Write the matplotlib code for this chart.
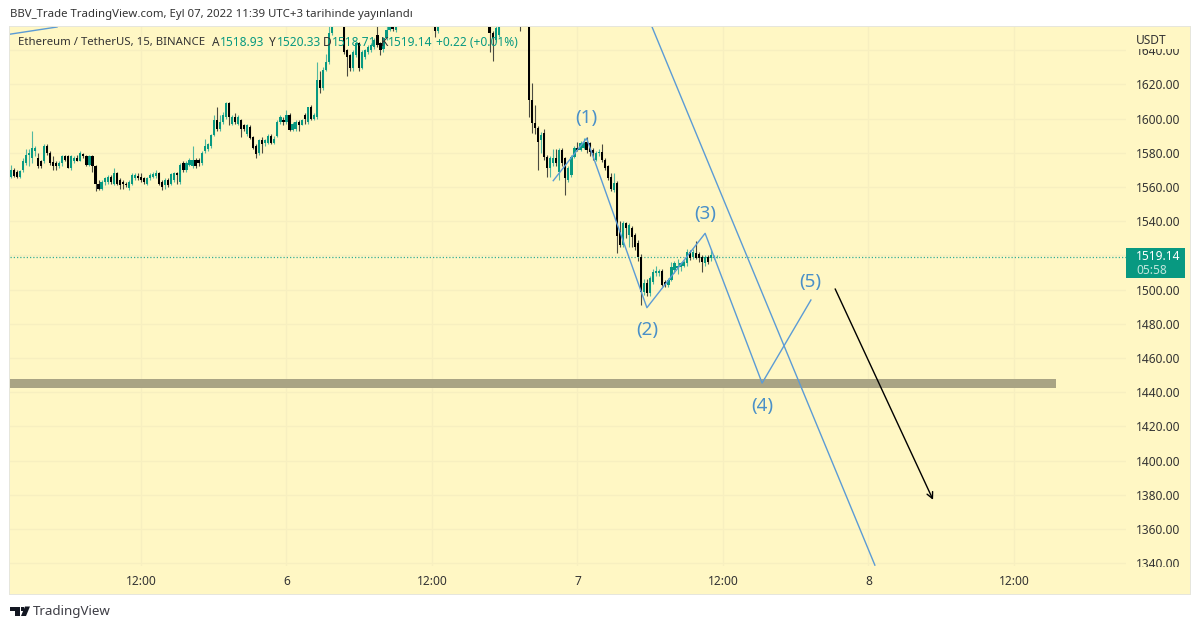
import numpy as np
import matplotlib
matplotlib.use("Agg")
import matplotlib.pyplot as plt
from matplotlib.patches import Rectangle, Polygon
from matplotlib.transforms import Bbox

W, H = 1200, 629
FONT = ["Noto Sans", "DejaVu Sans"]
plt.rcParams["font.family"] = FONT

# 15 minute candles, first one is bar 5 (bar 0 = 5th 00:00)
FIRST_BAR = 5
opens = [
    1566, 1570, 1569, 1566, 1570, 1574, 1579, 1577, 1581, 1577,
    1575, 1575, 1584, 1580, 1574.5, 1574, 1572.5, 1574, 1578, 1578,
    1571, 1575, 1577, 1575.5, 1579.5, 1578, 1573, 1578, 1572.5, 1562,
    1559, 1563, 1563, 1566, 1562, 1568, 1564, 1562.7, 1562, 1559.5,
    1562, 1565.5, 1566.6, 1566, 1565, 1562, 1565, 1565.7, 1566.4, 1568,
    1563, 1561, 1564, 1562, 1564, 1568, 1563, 1574, 1570, 1573,
    1572.5, 1576, 1576, 1574, 1581, 1582, 1584, 1590.5, 1599, 1594,
    1598, 1601, 1609, 1597, 1601, 1597, 1599, 1596, 1591, 1595,
    1589.5, 1584, 1580, 1587.5, 1585.6, 1585.6, 1590, 1586, 1590, 1598,
    1599, 1598, 1602, 1593.4, 1594, 1598, 1596.5, 1602, 1598, 1607,
    1600, 1601, 1622.6, 1617.7, 1628.4, 1633, 1650, 1660, 1668, 1672,
    1668, 1640, 1637, 1629.4, 1637, 1644, 1629.4, 1636, 1639, 1640,
    1642, 1649, 1644, 1640.5, 1647, 1652, 1654, 1652, 1656, 1662,
    1668, 1665, 1672, 1678, 1674, 1670, 1675, 1680, 1672, 1668,
    1663, 1651, 1657, 1663, 1670, 1676, 1672, 1680, 1686, 1682,
    1678, 1684, 1690, 1686, 1680, 1676, 1670, 1666, 1660, 1650,
    1646, 1649, 1656, 1662, 1668, 1673, 1679, 1684, 1680, 1675,
    1682, 1690, 1611, 1597.7, 1594.4, 1587.5, 1591.4, 1577.8, 1571, 1573.9,
    1576.8, 1569, 1581.7, 1576.8, 1564, 1567, 1577.8, 1582.7, 1581.7, 1582.7,
    1586.6, 1585.6, 1581.7, 1576, 1579.7, 1580.7, 1575.8, 1572, 1566, 1558.3,
    1562.6, 1534, 1526, 1538.8, 1532, 1535.9, 1532, 1527, 1519.3, 1498.8,
    1503.7, 1497.8, 1504.6, 1509.5, 1509.5, 1511, 1504.6, 1502.7, 1505.6, 1511.5,
    1512.4, 1513.4, 1514, 1515.4, 1522.2, 1518.9, 1521.6, 1520.8, 1519.3, 1515.4,
    1519.3, 1518.3, 1518.5, 1518.93,
]
closes = [
    1570, 1566.5, 1566, 1569.5, 1575, 1579, 1580, 1583, 1583, 1572,
    1572, 1584, 1580, 1574, 1572.5, 1572, 1574, 1578, 1576, 1571,
    1578, 1577, 1575.5, 1580, 1578, 1573, 1578, 1572.5, 1562, 1559,
    1563, 1565, 1566, 1563, 1568, 1562, 1561, 1562, 1561, 1563,
    1567, 1567, 1565, 1564, 1563, 1565, 1567, 1567.6, 1568, 1562,
    1560, 1564, 1561, 1567.6, 1568, 1567, 1573, 1570, 1574, 1576,
    1576, 1572.5, 1574, 1580, 1584, 1585, 1590.5, 1599, 1594, 1598,
    1602, 1609, 1601, 1601, 1598, 1601, 1594, 1594, 1596, 1588.5,
    1583, 1579.5, 1587.5, 1585, 1587.5, 1590, 1586, 1588, 1598, 1601,
    1598, 1602, 1593.4, 1597, 1598, 1596.5, 1599, 1600, 1606.6, 1600,
    1602, 1622.6, 1617.7, 1628.4, 1633.3, 1650, 1656, 1668, 1672, 1664,
    1639, 1636, 1629.4, 1639, 1644, 1629.4, 1639, 1640, 1642, 1643,
    1646, 1643, 1640, 1647, 1652, 1654.2, 1652.3, 1655, 1662, 1668,
    1665, 1672, 1678, 1674, 1670, 1675, 1680, 1672, 1668, 1664,
    1651, 1657, 1663, 1670, 1676, 1672, 1680, 1686, 1682, 1678,
    1684, 1690, 1686, 1680, 1676, 1670, 1666, 1660, 1650, 1647,
    1653, 1656, 1662, 1668, 1673, 1679, 1684, 1680, 1675, 1682,
    1690, 1610.9, 1597.7, 1594.4, 1586.6, 1590.4, 1577.8, 1571, 1576.8, 1576.8,
    1573.9, 1581.7, 1573.9, 1565, 1571, 1577.8, 1582.7, 1581.7, 1585.6, 1585.6,
    1581.7, 1580.7, 1579.7, 1579.7, 1580.7, 1575.8, 1571, 1565, 1558.7, 1562.6,
    1531.4, 1526, 1538.8, 1535.9, 1537.8, 1531, 1525.1, 1519.3, 1498.8, 1503.7,
    1497.8, 1506.6, 1510.5, 1511, 1511, 1502.7, 1502.7, 1505.6, 1513.4, 1515.4,
    1514, 1515.4, 1516.4, 1522.2, 1518.3, 1522.2, 1518.3, 1518.3, 1516.4, 1519.3,
    1516.4, 1520.2, 1519.3, 1519.14,
]
highs = [
    1573, 1571, 1570, 1570, 1577, 1582, 1582, 1593, 1584, 1580,
    1576, 1585, 1585, 1581, 1578, 1575, 1575, 1579, 1579, 1579,
    1579, 1578, 1579, 1581, 1580, 1579, 1579, 1579, 1573, 1564,
    1564, 1566, 1567, 1567, 1571, 1569, 1565, 1564, 1563, 1564,
    1568, 1568, 1568, 1568, 1566, 1566, 1568, 1569, 1570, 1569,
    1564, 1565, 1565, 1568, 1569, 1569, 1574, 1575, 1575, 1577,
    1584, 1577, 1577, 1581, 1588, 1586, 1591, 1602, 1607, 1602,
    1604, 1610, 1610, 1602, 1603, 1602, 1600, 1597, 1597, 1596,
    1590, 1585, 1588, 1589, 1588, 1591, 1591, 1590, 1599, 1602,
    1601, 1605, 1603, 1598, 1599, 1599, 1600, 1603, 1607, 1608,
    1603, 1633, 1628, 1630, 1638, 1668, 1665, 1672, 1680, 1675,
    1672, 1641, 1638, 1640, 1645, 1645, 1640, 1641, 1643, 1644,
    1647, 1654, 1645, 1648, 1654, 1658, 1658, 1658, 1665, 1672,
    1670, 1676, 1680, 1682, 1676, 1678, 1684, 1682, 1674, 1670,
    1665, 1660, 1666, 1674, 1680, 1679, 1683, 1690, 1688, 1684,
    1687, 1694, 1692, 1688, 1683, 1678, 1672, 1668, 1662, 1651,
    1655, 1660, 1665, 1672, 1676, 1682, 1688, 1686, 1682, 1684,
    1692, 1695, 1621, 1608, 1595.5, 1592, 1594, 1578.5, 1578, 1582,
    1582, 1583, 1583, 1577.5, 1572, 1579, 1584, 1586.5, 1587, 1588.5,
    1589, 1586.5, 1583, 1581, 1582, 1585, 1577, 1573, 1568, 1568.4,
    1563.5, 1540, 1540, 1539.5, 1539, 1537, 1533, 1529, 1521, 1506,
    1506, 1508, 1512, 1514, 1512, 1512, 1505.5, 1507, 1516, 1517,
    1518, 1516, 1517.5, 1524, 1523, 1523.5, 1528.6, 1522, 1520, 1520,
    1520.5, 1524, 1520.5, 1520.33,
]
lows = [
    1565, 1566, 1565, 1565, 1569, 1573, 1572, 1574, 1578, 1571,
    1571, 1574, 1579, 1573, 1570, 1570, 1571, 1572, 1575, 1571,
    1570, 1574, 1575, 1575, 1577, 1572, 1572, 1569, 1557.5, 1558,
    1558, 1561, 1562, 1562, 1561, 1561, 1559, 1559, 1560, 1558,
    1561, 1564, 1564, 1563, 1562, 1561, 1564, 1565, 1565, 1561,
    1558, 1559, 1560, 1561, 1563, 1562, 1562, 1569, 1569, 1572,
    1571, 1571, 1572, 1573, 1580, 1581, 1583, 1590, 1593, 1593,
    1597, 1600, 1596, 1596, 1597, 1596, 1589, 1593, 1590, 1588,
    1582, 1577, 1579, 1580, 1584, 1585, 1585, 1585, 1589, 1597,
    1596, 1597, 1593, 1593, 1593, 1593, 1596, 1597, 1597, 1599,
    1599, 1600, 1615, 1617, 1628, 1632, 1649, 1658, 1665, 1660,
    1638, 1625, 1628, 1628, 1636, 1628, 1629, 1635, 1638, 1639,
    1641, 1642, 1637, 1639, 1646, 1651, 1651.5, 1650.7, 1655, 1660,
    1663, 1664, 1670, 1672, 1668, 1668, 1673, 1670, 1666, 1660,
    1648, 1650, 1656, 1661, 1668, 1670, 1670, 1678, 1680, 1676,
    1676, 1682, 1684, 1677, 1673, 1667, 1663, 1657, 1639, 1634,
    1645, 1648, 1655, 1660, 1666, 1671, 1677, 1677, 1651.5, 1672,
    1680, 1601, 1591.8, 1591, 1570, 1580, 1576, 1565.7, 1566, 1572,
    1572, 1564, 1572, 1555.4, 1563, 1566, 1577, 1581, 1581, 1582,
    1580, 1578, 1576, 1575, 1578, 1574.5, 1570, 1564, 1557.5, 1557,
    1521.6, 1525, 1525, 1530, 1525, 1525, 1523, 1517, 1491, 1497,
    1496, 1496, 1503, 1508, 1508, 1502, 1501.5, 1501.5, 1505, 1509.5,
    1509, 1511, 1513, 1514, 1517.5, 1518, 1518, 1516, 1510, 1514,
    1515, 1517, 1518, 1518.71,
]

LAST_PRICE = 1519.14
price_ticks = list(range(1340, 1641, 20))
time_ticks = [48, 96, 144, 192, 240, 288, 336]
time_labels = ["12:00", "6", "12:00", "7", "12:00", "8", "12:00"]

# drawings on the chart, bar index / price
wave_x = [184, 195, 214.9, 234.1, 252.9, 269]
wave_y = [1563.7, 1588.5, 1489.4, 1532.9, 1445.3, 1493.9]
wave_names = ["(1)", "(2)", "(3)", "(4)", "(5)"]
wave_name_y = [1600.2, 1476.5, 1544.5, 1432, 1504.2]
wave_name_x = [195, 215.1, 234.2, 252.9, 268.7]
channel_x = [216.6, 290.1]
channel_y = [1653.6, 1338.8]
old_line_x = [4.8, 20.3]
old_line_y = [1649.4, 1653.6]
zone_x = [4.8, 349.9]
zone_lo, zone_hi = 1442.4, 1447.8
arrow_x = [277, 309.3]
arrow_y = [1500.4, 1377]

BG = "#FFF7C4"
GRID = "#F7EFC0"
UP = "#089981"
DOWN = "#000000"
BLUE = "#5B9BD5"
LABEL_BLUE = "#4A90C8"
TXT = "#333333"


def fx(x):
    return x / W


def fy(y):
    return 1 - y / H


def put(x, y, s, color=TXT, size=8.2, **kw):
    fig.text(fx(x), fy(y), s, color=color, fontsize=size, va="center", **kw)


fig = plt.figure(figsize=(W / 100, H / 100), dpi=100, facecolor="white")
fig.add_artist(Rectangle((fx(9), fy(594.5)), 1182 / W, 568.5 / H, transform=fig.transFigure,
                         facecolor="#E6E6DC", edgecolor="none", zorder=-2))
fig.add_artist(Rectangle((fx(10), fy(594)), 1180 / W, 567 / H, transform=fig.transFigure,
                         facecolor=BG, edgecolor="none", zorder=-1))

ax = fig.add_axes([fx(10), fy(566), 1116 / W, 539 / H])
ax.patch.set_alpha(0)
ax.set_xlim(4.785, 372.95)
ax.set_ylim(1338.3, 1653.6)
for s in ax.spines.values():
    s.set_visible(False)

ax.yaxis.tick_right()
ax.set_yticks(price_ticks)
ax.set_yticklabels(["%.2f" % p for p in price_ticks], va="center_baseline")
ax.set_xticks(time_ticks)
ax.set_xticklabels(time_labels)
ax.tick_params(length=0, labelsize=8.6, labelcolor=TXT)
ax.tick_params(axis="y", pad=7.5)
ax.tick_params(axis="x", pad=6.5)
for lab in ax.get_xticklabels():
    if lab.get_text() in ("6", "7", "8"):
        lab.set_fontweight("bold")
# price labels are cut at the top and bottom of the scale
clip = Bbox([[1127, H - 567], [1190, H - 49]])
for lab in ax.get_yticklabels():
    lab.set_clip_box(clip)
    lab.set_clip_on(True)
ax.grid(True, color=GRID, lw=0.9)
ax.set_axisbelow(True)

o = np.array(opens)
c = np.array(closes)
h = np.array(highs)
l = np.array(lows)
x = np.arange(len(c)) + FIRST_BAR
up = c >= o

ax.vlines(x[up], l[up], h[up], color="#52B8A0", lw=0.8, zorder=2)
ax.vlines(x[~up], l[~up], h[~up], color="#4A4A40", lw=0.8, zorder=2)
ax.bar(x[up], (c - o)[up], bottom=o[up], width=0.72, color=UP, lw=0, zorder=3)
ax.bar(x[~up], (o - c)[~up], bottom=c[~up], width=0.72, color=DOWN, lw=0, zorder=3)

ax.axhline(LAST_PRICE, color="#35AD96", lw=0.9, ls=(0, (1, 1.6)), zorder=2)

ax.fill_between(zone_x, zone_lo, zone_hi, color="#A9A484", lw=0, zorder=4)
ax.plot(wave_x, wave_y, color=BLUE, lw=1.0, zorder=5)
ax.plot(channel_x, channel_y, color=BLUE, lw=1.0, zorder=5)
ax.plot(old_line_x, old_line_y, color=BLUE, lw=1.0, zorder=5)
ax.annotate("", xy=(arrow_x[1], arrow_y[1]), xytext=(arrow_x[0], arrow_y[0]),
            arrowprops=dict(arrowstyle="->", color="black", lw=1.0, shrinkA=0, shrinkB=0,
                            mutation_scale=11), zorder=5)
for nx, ny, name in zip(wave_name_x, wave_name_y, wave_names):
    ax.text(nx, ny, name, color=LABEL_BLUE, fontsize=13.5, ha="center", va="center", zorder=6)

# last price tag, covers the 1520 label
fig.add_artist(Rectangle((fx(1126), fy(278)), 59 / W, 30 / H, transform=fig.transFigure,
                         facecolor=UP, edgecolor="none", zorder=5))
put(1136, 256, "1519.14", color="white", size=8.6, weight="bold", zorder=6)
put(1136, 271, "05:58", color="#BFE6DC", size=8.6, zorder=6)
put(1136, 40, "USDT", size=8.6)

# header and legend
put(10, 15, "BBV_Trade TradingView.com, Eyl 07, 2022 11:39 UTC+3 tarihinde yayınlandı", size=8.2)
put(18, 43, "Ethereum / TetherUS, 15, BINANCE", size=8.2)
for px, s, col in [(212, "A", TXT), (220, "1518.93", UP), (269, "Y", TXT), (277, "1520.33", UP),
                   (323, "D", TXT), (332, "1518.71", UP), (381, "K", TXT), (388, "1519.14", UP),
                   (436, "+0.22 (+0.01%)", UP)]:
    put(px, 43, s, color=col, size=8.6)

# footer logo and name
fig.add_artist(Polygon([(fx(10), fy(606.5)), (fx(20), fy(606.5)), (fx(20), fy(616)), (fx(15), fy(616)),
                        (fx(15), fy(611)), (fx(10), fy(611))], closed=True, transform=fig.transFigure,
                       facecolor="#131722", edgecolor="none"))
fig.add_artist(Polygon([(fx(25), fy(606.5)), (fx(30), fy(606.5)), (fx(26), fy(616)), (fx(21), fy(616))],
                       closed=True, transform=fig.transFigure, facecolor="#131722", edgecolor="none"))
fig.add_artist(Polygon([(fx(21), fy(607)), (fx(24), fy(607)), (fx(24), fy(610.5)), (fx(21), fy(610.5))],
                       closed=True, transform=fig.transFigure, facecolor="#131722", edgecolor="none"))
put(33, 612, "TradingView", color="#3D3D45", size=9.6)

fig.savefig("out.png", dpi=100)
